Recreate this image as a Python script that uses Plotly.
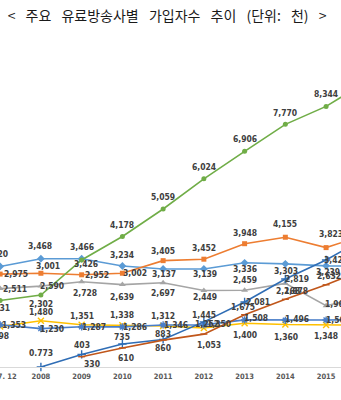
import plotly.graph_objects as go

# Subscribers by operator (unit: thousand)
categories = ["2007. 12", "2008", "2009", "2010", "2011", "2012", "2013", "2014", "2015", "2016"]

subs_1 = [3220, 3468, 3466, 3234, 3137, 3139, 3336, 3303, 3239, 3230]
subs_2 = [2975, 3001, 2952, 3002, 3405, 3452, 3948, 4155, 3823, 4250]
subs_3 = [2511, 2590, 2728, 2639, 2697, 2449, 2459, 2678, 1963, 2264]
subs_4 = [1298, 1480, 1351, 1338, 1312, 1252, 1400, 1360, 1348, 1340]
subs_5 = [1353, 1230, 1287, 1286, 1346, 1350, 1508, 1496, 1505, 1520]
subs_6 = [2131, 2302, 3426, 4178, 5059, 6024, 6906, 7770, 8344, 9150]
subs_7 = [None, 0.773, 403, 735, 883, 1445, 2081, 2819, 3428, 4150]
subs_8 = [None, None, 330, 610, 860, 1053, 1675, 2168, 2632, 3150]

# widened spaces between the words of the heading
SP = "\u2002 "
title_text = SP.join(["<", "주요", "유료방송사별", "가입자수", "추이", "(단위:", "천)", ">"])

# styling: colour, marker symbol, marker size, label offsets (dx, dy downward px)
styles = [
    (subs_1, "#5B9BD5", "diamond", 6,
     [(-4, -12), (-1, -13), (0, -12), (0, -11), (1, 5), (1, 5), (0, 6), (1, 7), (2, 6)]),
    (subs_2, "#ED7D31", "square", 5,
     [(16, 0), (7, -7), (15, 0), (13, 0), (0, -10), (0, -11), (0, -11), (0, -13), (5, -14)]),
    (subs_3, "#A5A5A5", "triangle-up", 6,
     [(15, 0), (11, 0), (3, 11), (0, 12), (0, 10), (1, 6), (0, -10), (11, 8), (11, -2)]),
    (subs_4, "#FFC000", "x-thin-open", 6,
     [(-3, 10), (0, -9), (0, -9), (0, -10), (0, -10), (3, -4), (0, 12), (1, 12), (0, 11)]),
    (subs_5, "#4A7EC8", "asterisk-open", 6,
     [(14, 0), (11, 0), (12, 0), (13, 0), (13, 0), (15, -1), (11, -2), (12, -1), (12, 0)]),
    (subs_6, "#70AD47", "circle", 5,
     [(-2, 8), (0, 9), (4, 4), (0, -12), (0, -12), (0, -12), (0, -12), (0, -11), (0, -12)]),
    (subs_7, "#2F6DB5", "cross-thin-open", 6,
     [None, (0, -14), (0, -9), (0, -7), (0, -5), (0, -7), (13, 0), (12, 0), (10, 0)]),
    (subs_8, "#C0561A", "line-ew-open", 5,
     [None, None, (10, 7), (4, 10), (0, 8), (5, 11), (-2, -8), (3, -8), (3, -9)]),
]

label_font = dict(family="Liberation Sans Narrow, Arial Narrow, DejaVu Sans Condensed, sans-serif",
                  size=8.5, color="#404040", weight="bold")

xs = list(range(len(categories)))
fig = go.Figure()
annotations = []


def fmt(v):
    return f"{v:,}" if float(v).is_integer() else f"{v}"


for values, color, symbol, size, offsets in styles:
    open_sym = symbol.endswith("-open")
    fig.add_trace(go.Scatter(
        x=xs, y=values, mode="lines+markers", connectgaps=False,
        line=dict(color=color, width=1.6),
        marker=dict(symbol=symbol, size=size, color=color,
                    line=dict(color=color, width=1.4 if open_sym else 0)),
        cliponaxis=False, showlegend=False, hoverinfo="skip",
    ))
    for i, off in enumerate(offsets):
        if off is None or values[i] is None:
            continue
        annotations.append(dict(
            x=xs[i], y=values[i], xref="x", yref="y", text=fmt(values[i]),
            showarrow=False, xshift=off[0], yshift=-off[1], font=label_font,
            xanchor="center", yanchor="middle",
        ))

fig.update_layout(
    width=341, height=400,
    margin=dict(l=0, r=0, t=40, b=33),
    paper_bgcolor="white", plot_bgcolor="white",
    title=dict(text=title_text, x=0.49, xanchor="center", xref="paper",
               y=1 - 16 / 400, yref="container", yanchor="middle",
               font=dict(family="Noto Sans CJK KR, sans-serif", size=14, color="#1a1a1a")),
    annotations=annotations,
    xaxis=dict(range=[-0.004, 8.366], tickvals=xs, ticktext=categories,
               showgrid=False, zeroline=False, showline=True, linecolor="#D9D9D9",
               linewidth=1, ticks="", ticklabeloverflow="allow", ticklabelstandoff=2,
               tickfont=dict(family="Liberation Sans Narrow, Arial Narrow, DejaVu Sans Condensed, sans-serif",
                             size=7.5, color="#595959", weight="bold"),
               automargin=False),
    yaxis=dict(range=[0, 10470], showgrid=False, zeroline=False, showticklabels=False,
               showline=False, ticks="", automargin=False),
)

fig.write_html("out.html")
